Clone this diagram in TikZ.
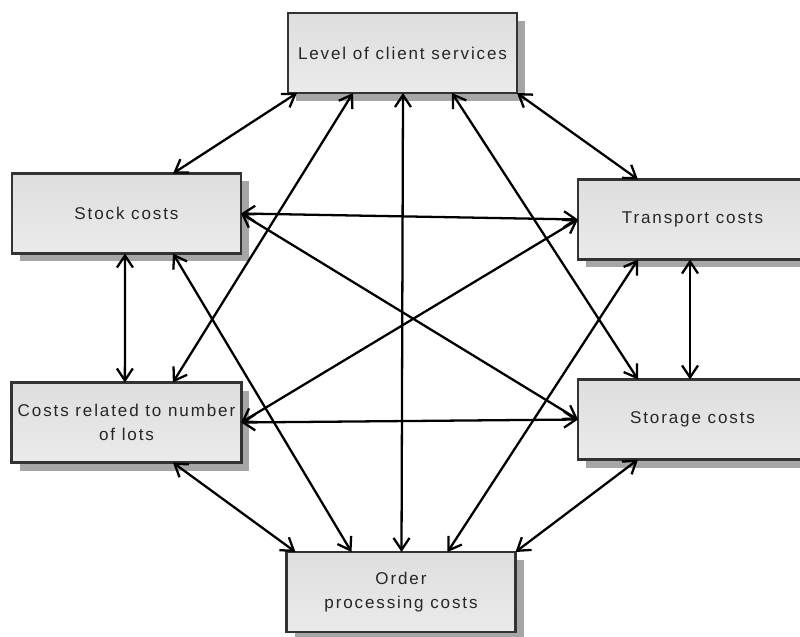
\documentclass[tikz,border=0pt]{standalone}
\usepackage{fontspec}
\setmainfont{Liberation Sans}[LetterSpace=11]
\usetikzlibrary{arrows.meta,shadows,positioning}

\begin{document}
\begin{tikzpicture}[every node/.style={outer sep=0pt},
		box/.style={draw=black!80,line width=1.6pt,top color=black!13,bottom color=black!8,
			minimum width=4.58cm,minimum height=1.6cm,align=center,text=black!85,
			font=\fontsize{9.7}{14}\selectfont,
			drop shadow={shadow xshift=0.16cm,shadow yshift=-0.16cm,fill=black!35,opacity=1}},
		>={Straight Barb[length=2.4mm,width=3.2mm]},
		link/.style={<->,line width=1.3pt}]

		\useasboundingbox (0,0) rectangle (16,-12.74);
		\clip (0,0) rectangle (16,-12.74);

		\node[box] (lcs) at (8.05,-1.06) {Level of client services};
		\node[box] (stock) at (2.53,-4.27) {Stock costs};
		\node[box] (trans) at (13.85,-4.39) {Transport costs};
		\node[box,below=2.58cm of stock] (lots) {Costs related to number\\of lots};
		\node[box,below=2.4cm of trans] (stor) {Storage costs};
		\node[box] (order) at (8.02,-11.84) {Order\\processing costs};

		% from the top box
		\draw[link] ([xshift=0.18cm]lcs.south west) -- ([xshift=3.22cm]stock.north west);
		\draw[link] ([xshift=1.3cm]lcs.south west) -- ([xshift=3.22cm]lots.north west);
		\draw[link] ([xshift=2.3cm]lcs.south west) -- ([xshift=2.3cm]order.north west);
		\draw[link] ([xshift=3.28cm]lcs.south west) -- ([xshift=1.2cm]stor.north west);
		\draw[link] (lcs.south east) -- ([xshift=1.2cm]trans.north west);

		\draw[link] (stock.east) -- (trans.west);
		\draw[link] (stock.east) -- (stor.west);
		\draw[link] ([xshift=2.26cm]stock.south west) -- ([xshift=2.26cm]lots.north west);
		\draw[link] ([xshift=3.22cm]stock.south west) -- ([xshift=1.3cm]order.north west);

		\draw[link] (trans.west) -- (lots.east);
		\draw[link] ([xshift=1.2cm]trans.south west) -- ([xshift=3.22cm]order.north west);
		\draw[link] ([xshift=2.24cm]trans.south west) -- ([xshift=2.24cm]stor.north west);

		\draw[link] (lots.east) -- (stor.west);
		\draw[link] ([xshift=3.22cm]lots.south west) -- ([xshift=0.18cm]order.north west);
		\draw[link] ([xshift=1.2cm]stor.south west) -- (order.north east);

	\end{tikzpicture}
\end{document}
